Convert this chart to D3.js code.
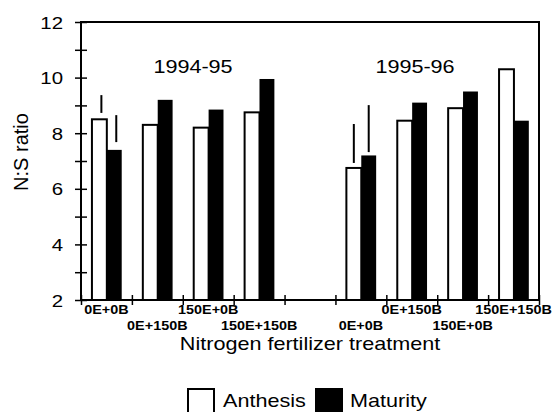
<!DOCTYPE html>
<html>
<head>
<meta charset="utf-8">
<script src="https://cdn.jsdelivr.net/npm/d3@7"></script>
<style>
  body { margin: 0; background: #fff; }
  text { font-family: "Liberation Sans", Arial, Helvetica, sans-serif; fill: #000; }
</style>
</head>
<body>
<div id="chart"></div>
<script>
// data
var treatments = ["0E+0B", "0E+150B", "150E+0B", "150E+150B"];
var seasons = ["1994-95", "1995-96"];
var anthesis9495 = [8.5, 8.3, 8.2, 8.75];
var maturity9495 = [7.4, 9.2, 8.85, 9.95];
var anthesis9596 = [6.75, 8.45, 8.9, 10.3];
var maturity9596 = [7.2, 9.1, 9.5, 8.45];
// floating LSD bars above the 0E+0B pair: [low, high]
var lsdAnthesis = [[8.73, 9.37], [6.93, 8.33]];
var lsdMaturity = [[7.68, 8.65], [7.32, 9.01]];
var yTicks = [2, 3, 4, 5, 6, 7, 8, 9, 10, 11, 12];
var legendLabels = ["Anthesis", "Maturity"];

var svgWidth = 554;
var svgHeight = 412;
var margin = { top: 22, right: 15, bottom: 112, left: 81 };
var width = svgWidth - margin.left - margin.right;
var height = svgHeight - margin.top - margin.bottom;
var stretch = 1.2; // the scanned type is wide

var svg = d3.select("#chart")
  .append("svg")
  .attr("width", svgWidth)
  .attr("height", svgHeight);

var chartGroup = svg.append("g")
  .attr("transform", `translate(${margin.left}, ${margin.top})`);

// 9 slots: 4 treatments, one empty gap, 4 treatments
var rows = [];
seasons.forEach(function(s, si) {
  var anth = si === 0 ? anthesis9495 : anthesis9596;
  var mat = si === 0 ? maturity9495 : maturity9596;
  treatments.forEach(function(t, ti) {
    rows.push({ season: s, si: si, treatment: t, slot: si * 5 + ti, anthesis: anth[ti], maturity: mat[ti] });
  });
});

var xSlot = d3.scaleBand()
  .domain(d3.range(9))
  .range([0, width]);
var xSub = d3.scaleBand()
  .domain(["anthesis", "maturity"])
  .range([xSlot.bandwidth() * 0.215, xSlot.bandwidth() * 0.8]);
var xEdge = d3.scaleLinear().domain([0, 9]).range([0, width]);

var yLinearScale = d3.scaleLinear()
  .domain([2, 12])
  .range([height, 0]);

// bars
var pairs = chartGroup.selectAll(".pair")
  .data(rows)
  .enter()
  .append("g")
  .attr("class", "pair")
  .attr("transform", d => `translate(${xSlot(d.slot)}, 0)`);

pairs.append("rect")
  .attr("x", xSub("anthesis"))
  .attr("y", d => yLinearScale(d.anthesis))
  .attr("width", xSub.bandwidth())
  .attr("height", d => height - yLinearScale(d.anthesis))
  .attr("fill", "#fff")
  .attr("stroke", "#000")
  .attr("stroke-width", 2);

pairs.append("rect")
  .attr("x", xSub("maturity"))
  .attr("y", d => yLinearScale(d.maturity))
  .attr("width", xSub.bandwidth())
  .attr("height", d => height - yLinearScale(d.maturity))
  .attr("fill", "#000");

// LSD lines
seasons.forEach(function(s, si) {
  var base = xSlot(si * 5);
  [[lsdAnthesis[si], "anthesis"], [lsdMaturity[si], "maturity"]].forEach(function(p) {
    var cx = base + xSub(p[1]) + xSub.bandwidth() / 2 + (si === 0 ? 2 : 0);
    chartGroup.append("line")
      .attr("x1", cx).attr("x2", cx)
      .attr("y1", yLinearScale(p[0][0]))
      .attr("y2", yLinearScale(p[0][1]))
      .attr("stroke", "#000")
      .attr("stroke-width", 2);
  });
});

// frame
chartGroup.append("rect")
  .attr("width", width)
  .attr("height", height)
  .attr("fill", "none")
  .attr("stroke", "#000")
  .attr("stroke-width", 2);

// y axis
var leftAxis = d3.axisLeft(yLinearScale)
  .tickValues(yTicks)
  .tickSize(6)
  .tickFormat(d => d % 2 === 0 ? d : "");

var yAxis = chartGroup.append("g").call(leftAxis);
yAxis.select(".domain").remove();
yAxis.selectAll(".tick line").attr("x1", 6).attr("stroke-width", 1.5);
yAxis.selectAll(".tick text")
  .attr("x", 0)
  .attr("dy", "0.36em")
  .attr("transform", `translate(-18, 0) scale(${stretch}, 1)`)
  .style("font-size", "17px")
  .style("font-family", "Liberation Sans, Arial, sans-serif");

// x axis ticks at slot edges
var bottomAxis = d3.axisBottom(xEdge)
  .tickValues(d3.range(10))
  .tickSize(5)
  .tickFormat("");
var xAxis = chartGroup.append("g")
  .attr("transform", `translate(0, ${height})`)
  .call(bottomAxis);
xAxis.select(".domain").remove();
xAxis.selectAll(".tick line").attr("y1", -5).attr("stroke-width", 1.5);

// treatment labels, staggered on two rows
chartGroup.selectAll(".treat")
  .data(rows)
  .enter()
  .append("text")
  .attr("class", "treat")
  .attr("text-anchor", "middle")
  .attr("transform", d => `translate(${xSlot(d.slot) + xSlot.bandwidth() / 2}, ${height + (d.slot % 2 === 0 ? 14 : 30)}) scale(${stretch}, 1)`)
  .style("font-size", "12px")
  .style("font-weight", "bold")
  .text(d => d.treatment);

// season labels
seasons.forEach(function(s, si) {
  chartGroup.append("text")
    .attr("text-anchor", "middle")
    .attr("transform", `translate(${si === 0 ? 112 : 334}, 51) scale(${stretch}, 1)`)
    .style("font-size", "18px")
    .text(s);
});

// axis titles
chartGroup.append("text")
  .attr("text-anchor", "middle")
  .attr("transform", `translate(${width / 2}, ${height + 50}) scale(${stretch}, 1)`)
  .style("font-size", "18px")
  .text("Nitrogen fertilizer treatment");

chartGroup.append("text")
  .attr("text-anchor", "middle")
  .attr("transform", "translate(-53, 130) rotate(-90)")
  .style("font-size", "20px")
  .text("N:S ratio");

// legend
var legend = svg.append("g").attr("transform", "translate(187, 388)");
legend.append("rect")
  .attr("x", 1).attr("y", 1)
  .attr("width", 26).attr("height", 26)
  .attr("fill", "#fff").attr("stroke", "#000").attr("stroke-width", 2);
legend.append("text")
  .attr("transform", `translate(36, 19) scale(${stretch}, 1)`)
  .style("font-size", "18px")
  .text(legendLabels[0]);
legend.append("rect")
  .attr("x", 128).attr("y", 0)
  .attr("width", 28).attr("height", 28)
  .attr("fill", "#000");
legend.append("text")
  .attr("transform", `translate(163, 19) scale(${stretch}, 1)`)
  .style("font-size", "18px")
  .text(legendLabels[1]);
</script>
</body>
</html>
